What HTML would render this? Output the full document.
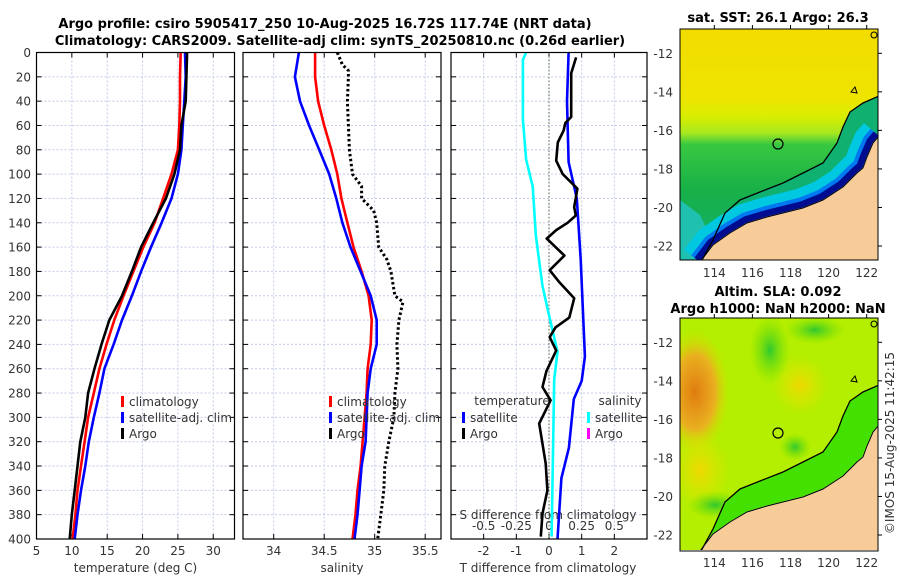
<!DOCTYPE html>
<html><head><meta charset="utf-8"><style>
html,body{margin:0;padding:0;background:#fff}
svg{display:block;font-family:"DejaVu Sans","Liberation Sans",sans-serif}
.t{font-size:12px;fill:#333}
.ti{font-size:13px;font-weight:bold;fill:#000}
</style></head><body>
<svg id="fig" width="900" height="580" viewBox="0 0 900 580">
<defs>
<clipPath id="c1"><rect x="680" y="29" width="198" height="231"/></clipPath>
<clipPath id="c2"><rect x="680" y="318" width="198" height="232"/></clipPath>
<linearGradient id="sstg" x1="0" y1="0" x2="0" y2="1">
<stop offset="0" stop-color="#f3dc00"/><stop offset="0.3" stop-color="#eee400"/>
<stop offset="0.38" stop-color="#d8ee00"/><stop offset="0.45" stop-color="#a8e820"/>
<stop offset="0.5" stop-color="#38c840"/><stop offset="0.7" stop-color="#18b048"/>
<stop offset="1" stop-color="#10b070"/></linearGradient>
<radialGradient id="org"><stop offset="0" stop-color="#e07c10"/><stop offset="0.6" stop-color="#eab020"/><stop offset="1" stop-color="#d8e000" stop-opacity="0"/></radialGradient>
<radialGradient id="yel"><stop offset="0" stop-color="#f0d800"/><stop offset="1" stop-color="#e0e800" stop-opacity="0"/></radialGradient>
<radialGradient id="grn"><stop offset="0" stop-color="#30c830"/><stop offset="1" stop-color="#70e000" stop-opacity="0"/></radialGradient>
</defs>
<g>
<text class="ti" x="325" y="28" text-anchor="middle">Argo profile: csiro 5905417_250 10-Aug-2025 16.72S 117.74E (NRT data)</text>
<text class="ti" x="340" y="45" text-anchor="middle">Climatology: CARS2009. Satellite-adj clim: synTS_20250810.nc (0.26d earlier)</text>
</g>
<g id="plots"></g>
<g id="maps"></g>
<text class="t" transform="translate(894,443) rotate(-90)" text-anchor="middle">©IMOS 15-Aug-2025 11:42:15</text>
</svg>
<script>
const depths=[0,20,40,60,80,100,120,140,160,180,200,220,240,260,280,300,320,340,360,380,400];
const tempClim=[25.4,25.3,25.3,25.2,25.0,24.1,22.9,21.7,20.1,18.7,17.3,16.0,14.9,13.9,13.1,12.3,11.8,11.3,10.8,10.5,10.1];
const tempSat=[26.0,26.1,25.9,25.7,25.5,25.0,24.1,22.7,21.2,19.8,18.5,17.1,15.9,14.6,13.9,13.1,12.4,11.9,11.3,10.8,10.4];
const tempArgo=[26.3,26.2,26.1,25.5,25.3,24.5,23.3,21.5,19.8,18.5,17.1,15.3,14.2,13.2,12.3,11.9,11.2,10.8,10.4,10.0,9.7];
const salClim=[34.41,34.41,34.44,34.50,34.57,34.63,34.67,34.73,34.79,34.87,34.94,34.97,34.96,34.93,34.92,34.90,34.88,34.86,34.83,34.81,34.78];
const salSat=[34.25,34.21,34.26,34.35,34.45,34.55,34.62,34.68,34.76,34.86,34.96,35.02,35.02,34.96,34.93,34.92,34.91,34.87,34.85,34.83,34.80];
const argoSalDepths=[0,10,15,20,40,60,80,100,110,120,130,140,160,170,180,200,205,220,240,260,280,300,320,340,360,380,400];
const salArgo=[34.63,34.68,34.74,34.74,34.73,34.74,34.75,34.78,34.87,34.87,34.99,35.02,35.04,35.12,35.16,35.20,35.28,35.24,35.22,35.23,35.20,35.19,35.14,35.10,35.09,35.06,35.03];
const tDiffSatDepths=[0,40,90,120,170,250,270,285,325,350,400];
const tDiffSat=[0.6,0.55,0.6,0.85,0.97,1.1,1.0,0.76,0.61,0.38,0.26];
const tDiffArgoDepths=[4,17,53,58,64,74,89,100,112,127,134,140,146,153,167,179,189,202,218,226,234,245,262,275,286,305,338,360,379,398];
const tDiffArgo=[0.83,0.68,0.68,0.5,0.45,0.27,0.22,0.42,0.87,0.77,0.82,0.57,0.22,-0.07,0.47,0.02,0.32,0.77,0.62,0.2,0.02,0.22,-0.08,-0.2,0.05,-0.3,-0.1,-0.05,-0.2,-0.25];
const sDiffSatDepths=[0,6,55,88,110,151,192,216,246,269,398];
const sDiffSat=[-0.175,-0.2,-0.2,-0.175,-0.125,-0.1,-0.05,0,0.065,0.04,0.02];
const depthTicks=[0,20,40,60,80,100,120,140,160,180,200,220,240,260,280,300,320,340,360,380,400];
const tempTicks=[5,10,15,20,25,30];
const salTicks=[34,34.5,35,35.5];
const tdTicks=[-2,-1,0,1,2];
const sdTicks=[-0.5,-0.25,0,0.25,0.5];

const NS='http://www.w3.org/2000/svg';
const plots=document.getElementById('plots');
function mk(tag,attrs,parent){const e=document.createElementNS(NS,tag);for(const k in attrs)e.setAttribute(k,attrs[k]);(parent||plots).appendChild(e);return e;}
const Y0=52.5,Y1=539;
const yD=d=>Y0+d*(Y1-Y0)/400;
const xT=t=>36.5+(t-5)*7.07;
const xS=s=>273.7+(s-34)*101;
const xTD=t=>549+t*32.67;
const xSD=s=>549+s*4*32.67;
const panels=[[36.5,234.5],[243,441],[451,647]];

panels.forEach((p,i)=>{
  const g=mk('g',{});
  
  
  depthTicks.forEach(d=>{
    const l=mk('line',{x1:p[0],x2:p[1],y1:yD(d),y2:yD(d),stroke:'#c4cbe8','stroke-width':1,'stroke-dasharray':'2,2'},g);
    mk('line',{x1:p[0],x2:p[0]+5,y1:yD(d),y2:yD(d),stroke:'#000'},g);
    mk('line',{x1:p[1]-5,x2:p[1],y1:yD(d),y2:yD(d),stroke:'#000'},g);
  });
});
function vgrid(xs,p){xs.forEach(x=>{
  mk('line',{x1:x,x2:x,y1:Y0,y2:Y1,stroke:'#c4cbe8','stroke-dasharray':'2,2'});
  mk('line',{x1:x,x2:x,y1:Y1-5,y2:Y1,stroke:'#000'});
  mk('line',{x1:x,x2:x,y1:Y0,y2:Y0+5,stroke:'#000'});
});}
vgrid(tempTicks.map(xT));vgrid(salTicks.map(xS));vgrid(tdTicks.map(xTD));
// zero line
const z=mk('line',{x1:xTD(0),x2:xTD(0),y1:Y0,y2:Y1,stroke:'#556644','stroke-dasharray':'1.5,2','stroke-width':1});



// depth tick labels
depthTicks.forEach(d=>{
  const t=mk('text',{x:31,y:yD(d)+4.5,'text-anchor':'end',class:'t'});t.textContent=d;
  
  
});
function xlabels(ticks,fx,y,fmt){ticks.forEach(v=>{const t=mk('text',{x:fx(v),y:y,'text-anchor':'middle',class:'t'});t.textContent=fmt?fmt(v):v;
  
  });}
xlabels(tempTicks,xT,555);
xlabels(salTicks,xS,555);
xlabels(tdTicks,xTD,555);
xlabels(sdTicks,xSD,530,v=>v===0?'0':String(v).replace('0.','0.'));
function lbl(x,y,s,name){const t=mk('text',{x:x,y:y,'text-anchor':'middle',class:'t','font-size':'13'});t.textContent=s;
  
  }
lbl(135.5,572,'temperature (deg C)','temperature-axis-title');
lbl(342,572,'salinity','salinity-axis-title');
lbl(548,572,'T difference from climatology','t-diff-axis-title');
lbl(548,519,'S difference from climatology','s-diff-axis-title');

function line(ds,vs,fx,color,name,dash,w){
  const pts=ds.map((d,i)=>fx(vs[i]).toFixed(1)+','+yD(d).toFixed(1)).join(' ');
  const a={points:pts,fill:'none',stroke:color,'stroke-width':w||2.6,'stroke-linejoin':'round'};
  if(dash)a['stroke-dasharray']=dash;
  const e=mk('polyline',a);
  
  
}
line(depths,tempClim,xT,'#ff0000','temp-climatology-line');
line(depths,tempSat,xT,'#0000ff','temp-satellite-line');
line(depths,tempArgo,xT,'#000','temp-argo-line');
line(depths,salClim,xS,'#ff0000','sal-climatology-line');
line(depths,salSat,xS,'#0000ff','sal-satellite-line');
line(argoSalDepths,salArgo,xS,'#000','sal-argo-line','2.5,2.5',3);
line(sDiffSatDepths,sDiffSat,xSD,'#00ffff','sdiff-satellite-line');
line(tDiffSatDepths,tDiffSat,xTD,'#0000ff','tdiff-satellite-line');
line(tDiffArgoDepths,tDiffArgo,xTD,'#000','tdiff-argo-line');

panels.forEach((p,i)=>{const r=mk('rect',{x:p[0],y:Y0,width:p[1]-p[0],height:Y1-Y0,fill:'none',stroke:'#000','stroke-width':1.2});
  
  });

function legendEntry(x,y,color,label){
  const g=mk('g',{});
  
  
  mk('rect',{x:x,y:y-10,width:3,height:11,fill:color},g);
  const t=mk('text',{x:x+8,y:y,class:'t','font-size':'13',fill:'#111'},g);t.textContent=label;
}
legendEntry(121,406,'#ff0000','climatology');legendEntry(121,422,'#0000ff','satellite-adj. clim');legendEntry(121,438,'#000','Argo');
legendEntry(329,406,'#ff0000','climatology');legendEntry(329,422,'#0000ff','satellite-adj. clim');legendEntry(329,438,'#000','Argo');
lbl(512,405,'temperature','legend-temperature-heading');
legendEntry(462,422,'#0000ff','satellite');legendEntry(462,438,'#000','Argo');
lbl(620,405,'salinity','legend-salinity-heading');
legendEntry(587,422,'#00ffff','satellite');legendEntry(587,438,'#ff00ff','Argo');

// maps
const maps=document.getElementById('maps');
function mm(tag,attrs,parent){const e=document.createElementNS(NS,tag);for(const k in attrs)e.setAttribute(k,attrs[k]);(parent||maps).appendChild(e);return e;}
const coast=[[700,262],[713,245],[730,233],[747,223],[767,217],[783,213],[803,208],[823,200],[843,187],[857,173],[863,168],[867,157],[873,143],[879,136]];
const contour=[[701,262],[713,240],[725,213],[740,200],[760,192],[783,183],[803,173],[823,163],[837,143],[843,127],[850,112],[863,103],[879,96]];
function pts(a,dy){return a.map(p=>p[0]+','+(p[1]+dy)).join(' ');}
function drawMap(dy,clip,kind){
  const g=mm('g',{'clip-path':'url(#'+clip+')'});
  
  
  if(kind==='sst'){
    mm('rect',{x:680,y:29,width:198,height:231,fill:'url(#sstg)'},g);
    mm('polygon',{points:pts(contour,dy)+' 879,262 700,262',fill:'#10b070'},g);
    mm('polygon',{points:'680,200 700,215 712,240 700,262 680,262',fill:'#20c0b0'},g);
    mm('polyline',{points:pts(coast,dy),fill:'none',stroke:'#00c8e0','stroke-width':40},g);
    mm('polyline',{points:pts(coast,dy),fill:'none',stroke:'#0078f0','stroke-width':22},g);
    mm('polyline',{points:pts(coast,dy),fill:'none',stroke:'#000c90','stroke-width':14},g);
  } else {
    mm('rect',{x:680,y:318,width:198,height:232,fill:'#b4ee00'},g);
    mm('ellipse',{cx:695,cy:392,rx:34,ry:62,fill:'url(#org)'},g);
    mm('ellipse',{cx:700,cy:470,rx:30,ry:40,fill:'url(#yel)'},g);
    mm('ellipse',{cx:800,cy:385,rx:28,ry:30,fill:'url(#yel)'},g);
    mm('ellipse',{cx:770,cy:350,rx:20,ry:35,fill:'url(#grn)'},g);
    mm('ellipse',{cx:815,cy:330,rx:30,ry:14,fill:'url(#grn)'},g);
    mm('ellipse',{cx:795,cy:447,rx:16,ry:14,fill:'url(#grn)'},g);
    mm('ellipse',{cx:715,cy:505,rx:28,ry:14,fill:'url(#grn)'},g);
    mm('polygon',{points:pts(contour,dy)+' 879,552 700,552',fill:'#44e000'},g);
  }
  mm('polygon',{points:pts(coast,dy)+' 879,'+(265+dy)+' 680,'+(265+dy),fill:'#f8cc98',stroke:'#fff','stroke-width':1},g);
  mm('polyline',{points:pts(contour,dy),fill:'none',stroke:'#000','stroke-width':1.3},g);
  mm('polyline',{points:pts(coast,dy),fill:'none',stroke:'#000','stroke-width':1},g);
  mm('circle',{cx:778,cy:144+dy,r:5,fill:'none',stroke:'#000','stroke-width':1.2},g);
  mm('path',{d:'M851 '+(92+dy)+'l4 -5 2 6z M871 '+(35+dy)+'a3 3 0 1 0 6 0a3 3 0 1 0 -6 0',fill:'none',stroke:'#000'},g);
  const f=mm('rect',{x:680,y:29+dy,width:198,height:231+(dy?2:0),fill:'none',stroke:'#000','stroke-width':1});
  
  
}
drawMap(0,'c1','sst');
drawMap(289,'c2','sla');
const lonTicks=[114,116,118,120,122];
const latTicks=[-12,-14,-16,-18,-20,-22];
const xLon=l=>714.3+(l-114)*19.05;
const yLat=(l,dy)=>53.3+dy+(-12-l)*19.27;
[0,289].forEach(dy=>{
  lonTicks.forEach(l=>{const t=mm('text',{x:xLon(l),y:277+dy+(dy?1:0),'text-anchor':'middle',class:'t'});t.textContent=l;
    
    
    mm('line',{x1:xLon(l),x2:xLon(l),y1:29+dy,y2:25+dy,stroke:'#000'});});
  latTicks.forEach(l=>{const t=mm('text',{x:673,y:yLat(l,dy)+4.5,'text-anchor':'end',class:'t'});t.textContent=l;
    
    
    mm('line',{x1:878,x2:882,y1:yLat(l,dy),y2:yLat(l,dy),stroke:'#000'});});
});
function mt(x,y,s,name){const t=mm('text',{x:x,y:y,'text-anchor':'middle',class:'ti'});t.textContent=s;
  
  }
mt(778,22,'sat. SST: 26.1 Argo: 26.3','sst-map-title');
mt(778,296,'Altim. SLA: 0.092','sla-map-title');
mt(778,313,'Argo h1000: NaN h2000: NaN','sla-map-subtitle');
</script>
</body></html>
